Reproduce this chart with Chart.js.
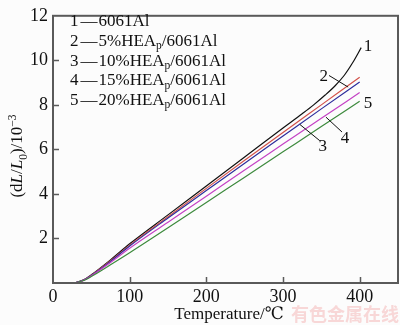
<!DOCTYPE html>
<html>
<head>
<meta charset="utf-8">
<script src="https://cdn.jsdelivr.net/npm/chart.js@4.4.1/dist/chart.umd.min.js"></script>
<style>
  html, body { margin: 0; padding: 0; background: #fcfcfc; }
  #wrap { width: 400px; height: 325px; }
</style>
</head>
<body>
<div id="wrap"><canvas id="dilatationChart" width="400" height="325"></canvas></div>
<script>
// temperatures (°C) and dL/L0 (x10^-3)
const tempsAl = [28, 40, 50, 75, 100, 150, 200, 250, 300, 325, 340, 355, 368, 380, 391, 402];
const al6061 = [0, 0.14, 0.37, 1.04, 1.76, 3.06, 4.36, 5.66, 6.96, 7.6, 8.0, 8.44, 8.86, 9.33, 9.9, 10.57];

const temps = [28, 40, 50, 75, 100, 150, 200, 250, 300, 350, 400];
const hea5 = [0, 0.13, 0.35, 1.0, 1.70, 2.98, 4.25, 5.51, 6.76, 8.0, 9.24];
const hea10 = [0, 0.13, 0.34, 0.97, 1.66, 2.92, 4.15, 5.38, 6.6, 7.82, 9.03];
const hea15 = [0, 0.12, 0.32, 0.92, 1.56, 2.73, 3.9, 5.08, 6.24, 7.4, 8.55];
const hea20 = [0, 0.11, 0.29, 0.82, 1.36, 2.48, 3.62, 4.75, 5.89, 7.03, 8.16];

const legendRows = [
    ['1', '6061Al'],
    ['2', '5%HEA', 'p', '/6061Al'],
    ['3', '10%HEA', 'p', '/6061Al'],
    ['4', '15%HEA', 'p', '/6061Al'],
    ['5', '20%HEA', 'p', '/6061Al']
];

// curve number callouts: [text, labelT, labelV, leaderFromT, leaderFromV, leaderToT, leaderToV]
const callouts = [
    ['1', 411, 10.6, null, null, null, null],
    ['2', 353, 9.28, 360, 9.32, 385, 8.8],
    ['3', 352, 6.12, 348, 6.39, 322, 7.12],
    ['4', 381, 6.5, 377, 6.78, 356, 7.45],
    ['5', 411, 8.05, null, null, null, null]
];

const SERIF = '"Liberation Serif", "DejaVu Serif", serif';

function pts(xs, ys) {
    return xs.map((t, i) => ({ x: t, y: ys[i] }));
}

function partFont(kind, size) {
    let fs = size, style = '';
    if (kind === 'i') style = 'italic ';
    if (kind === 'sub' || kind === 'sup') fs = size * 0.68;
    return style + fs + 'px ' + SERIF;
}

function drawRich(ctx, parts, x, y, size) {
    // parts: [text, kind] kind: n normal, i italic, sub, sup, gap (text = px)
    let cx = x;
    parts.forEach(([txt, kind]) => {
        if (kind === 'gap') { cx += txt; return; }
        let dy = 0;
        if (kind === 'sub') dy = size * 0.28;
        if (kind === 'sup') dy = -size * 0.38;
        ctx.font = partFont(kind, size);
        ctx.fillText(txt, cx, y + dy);
        cx += ctx.measureText(txt).width;
    });
    return cx - x;
}

function richWidth(ctx, parts, size) {
    let w = 0;
    parts.forEach(([txt, kind]) => {
        if (kind === 'gap') { w += txt; return; }
        ctx.font = partFont(kind, size);
        w += ctx.measureText(txt).width;
    });
    return w;
}

const decorPlugin = {
    id: 'decor',
    beforeDraw(chart) {
        const ctx = chart.ctx;
        ctx.save();
        ctx.fillStyle = '#fcfcfc';
        ctx.fillRect(0, 0, chart.width, chart.height);
        ctx.restore();
    },
    afterDraw(chart) {
        const ctx = chart.ctx;
        const a = chart.chartArea;
        const xs = chart.scales.x, ys = chart.scales.y;
        ctx.save();

        // frame
        ctx.strokeStyle = '#5a5a5a';
        ctx.lineWidth = 2;
        ctx.strokeRect(a.left, a.top, a.right - a.left, a.bottom - a.top);

        // inward ticks
        ctx.lineWidth = 1.5;
        ctx.beginPath();
        xs.ticks.forEach(t => {
            const px = Math.round(xs.getPixelForValue(t.value)) + 0.5;
            if (t.value <= xs.min || t.value >= xs.max) return;
            ctx.moveTo(px, a.bottom);
            ctx.lineTo(px, a.bottom - 6);
        });
        ys.ticks.forEach(t => {
            const py = Math.round(ys.getPixelForValue(t.value)) + 0.5;
            if (t.value <= ys.min || t.value >= ys.max) return;
            ctx.moveTo(a.left, py);
            ctx.lineTo(a.left + 6, py);
        });
        ctx.stroke();

        // legend text
        ctx.fillStyle = '#111';
        ctx.textBaseline = 'middle';
        ctx.textAlign = 'left';
        legendRows.forEach((row, i) => {
            const y = 22 + i * 19.6;
            const parts = [[row[0], 'n'], [2, 'gap'], ['\u2014', 'n'], [1, 'gap'], [row[1], 'n']];
            if (row.length > 2) {
                parts.push([row[2], 'sub']);
                parts.push([row[3], 'n']);
            }
            drawRich(ctx, parts, 70, y, 17);
        });

        // callouts
        ctx.strokeStyle = '#111';
        ctx.lineWidth = 1;
        ctx.font = '17px ' + SERIF;
        ctx.textAlign = 'center';
        callouts.forEach(c => {
            ctx.fillText(c[0], xs.getPixelForValue(c[1]), ys.getPixelForValue(c[2]));
            if (c[3] !== null) {
                ctx.beginPath();
                ctx.moveTo(xs.getPixelForValue(c[3]), ys.getPixelForValue(c[4]));
                ctx.lineTo(xs.getPixelForValue(c[5]), ys.getPixelForValue(c[6]));
                ctx.stroke();
            }
        });

        // x axis title
        ctx.textAlign = 'left';
        ctx.textBaseline = 'alphabetic';
        const xt = [['Temperature/\u2103', 'n']];
        const xw = richWidth(ctx, xt, 17);
        drawRich(ctx, xt, 229 - xw / 2, 319, 17);

        // y axis title
        const yt = [['(d', 'n'], ['L', 'i'], ['/', 'n'], ['L', 'i'], ['0', 'sub'], [')/10', 'n'], ['\u22123', 'sup']];
        const yw = richWidth(ctx, yt, 17);
        ctx.translate(22, 156);
        ctx.rotate(-Math.PI / 2);
        drawRich(ctx, yt, -yw / 2, 0, 17);
        ctx.setTransform(1, 0, 0, 1, 0, 0);

        // watermark
        ctx.fillStyle = 'rgba(236, 120, 120, 0.28)';
        ctx.font = 'bold 18px "Noto Sans CJK SC"';
        ctx.textAlign = 'right';
        ctx.textBaseline = 'middle';
        ctx.fillText('有色金属在线', 399, 314);

        ctx.restore();
    }
};

const lineStyle = (color) => ({
    borderColor: color,
    backgroundColor: color,
    borderWidth: 1.2,
    pointRadius: 0,
    fill: false,
    cubicInterpolationMode: 'monotone'
});

new Chart(document.getElementById('dilatationChart'), {
    type: 'line',
    data: {
        datasets: [
            { label: '5', data: pts(temps, hea20), ...lineStyle('#3d8a3d') },
            { label: '4', data: pts(temps, hea15), ...lineStyle('#c442c4') },
            { label: '3', data: pts(temps, hea10), ...lineStyle('#2e2e9c') },
            { label: '2', data: pts(temps, hea5), ...lineStyle('#d2524a') },
            { label: '1', data: pts(tempsAl, al6061), ...lineStyle('#111111') }
        ]
    },
    options: {
        responsive: false,
        animation: false,
        devicePixelRatio: 1,
        layout: { padding: { top: 5, right: 2, left: 0, bottom: 0 } },
        plugins: {
            legend: { display: false },
            tooltip: { enabled: false }
        },
        scales: {
            x: {
                type: 'linear',
                min: 0,
                max: 450,
                afterFit: (s) => { s.height = 42; },
                grid: { display: false, drawTicks: false },
                border: { display: false },
                ticks: {
                    stepSize: 100,
                    includeBounds: false,
                    maxRotation: 0,
                    padding: 3,
                    color: '#111',
                    font: { family: SERIF, size: 18 }
                }
            },
            y: {
                type: 'linear',
                min: 0,
                max: 12,
                afterFit: (s) => { s.width = 53; },
                grid: { display: false, drawTicks: false },
                border: { display: false },
                ticks: {
                    stepSize: 2,
                    padding: 5,
                    color: '#111',
                    font: { family: SERIF, size: 18 },
                    callback: (v) => (v === 0 ? '' : v)
                }
            }
        }
    },
    plugins: [decorPlugin]
});
</script>
</body>
</html>
